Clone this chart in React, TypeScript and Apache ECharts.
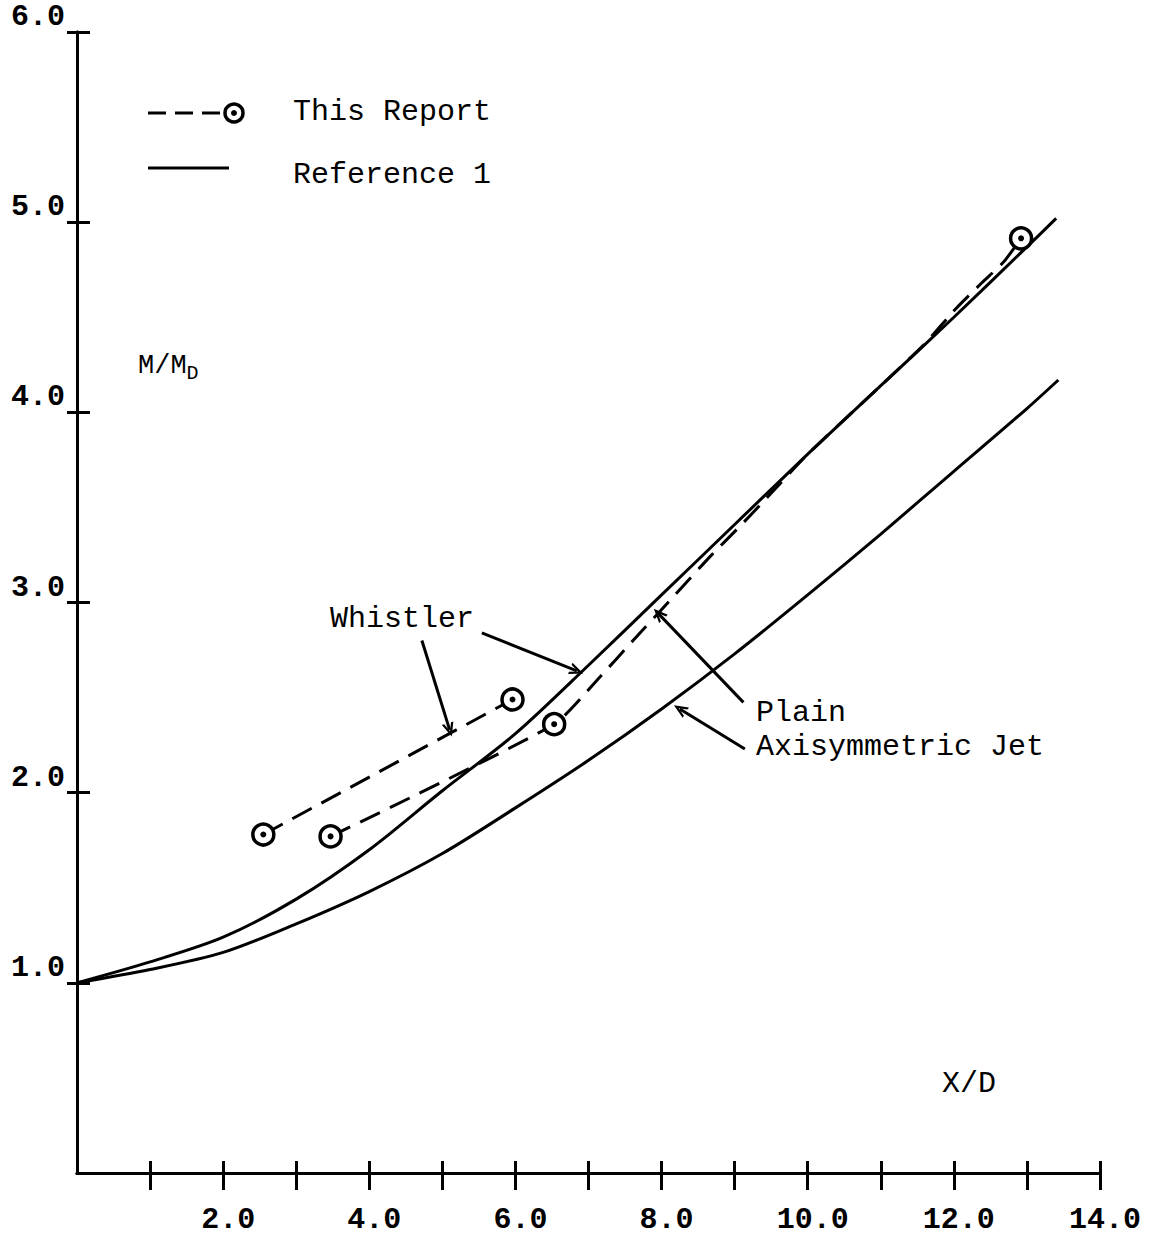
import React, { useEffect, useRef } from "react";
import * as echarts from "echarts";

// Reference 1 curves (solid)
const refWhistlerX = [0, 1, 2, 3, 4, 5, 6, 7, 8, 9, 10, 11, 12, 13, 13.4];
const refWhistlerY = [1.0, 1.11, 1.24, 1.44, 1.7, 2.01, 2.31, 2.67, 3.04, 3.41, 3.78, 4.14, 4.5, 4.87, 5.02];
const refPlainX = [0, 1, 2, 3, 4, 5, 6, 7, 8, 9, 10, 11, 12, 13, 13.43];
const refPlainY = [1.0, 1.07, 1.16, 1.31, 1.48, 1.68, 1.92, 2.17, 2.44, 2.73, 3.04, 3.36, 3.69, 4.02, 4.17];

// This Report (dashed with circled-dot markers)
const reportWhistlerX = [2.55, 5.96];
const reportWhistlerY = [1.78, 2.49];
const reportPlainX = [3.47, 6.53, 12.92];
const reportPlainY = [1.77, 2.36, 4.915];
const reportPlainCurveX = [3.47, 6.53, 7.16, 7.61, 8.16, 8.66, 9.07, 9.44, 10.0, 11.0, 11.6, 12.04, 12.38, 12.68, 12.92];
const reportPlainCurveY = [1.77, 2.36, 2.61, 2.8, 3.03, 3.24, 3.4, 3.55, 3.78, 4.14, 4.36, 4.55, 4.68, 4.79, 4.915];

// Ticks and tick labels
const xTickValues = [1, 2, 3, 4, 5, 6, 7, 8, 9, 10, 11, 12, 13, 14];
const yTickValues = [1, 2, 3, 4, 5, 6];
const xLabelValues = [2, 4, 6, 8, 10, 12, 14];
const yLabelValues = [1, 2, 3, 4, 5, 6];

// Annotation arrows (data coordinates: from -> to)
const arrowWhistlerDashed = [[4.72, 2.8], [5.1, 2.33]];
const arrowWhistlerSolid = [[5.54, 2.84], [6.84, 2.64]];
const arrowPlainDashed = [[9.12, 2.475], [7.96, 2.94]];
const arrowPlainSolid = [[9.14, 2.23], [8.25, 2.44]];

const FONT = '"Liberation Mono", "Courier New", monospace';
const zip = (xs: number[], ys: number[]) => xs.map((x, i) => [x, ys[i]]);

export default function App() {
  const ref = useRef<HTMLDivElement>(null);
  useEffect(() => {
    if (!ref.current) return;
    const chart = echarts.init(ref.current, undefined, { renderer: "svg" });
    const arrowSym = "path://M5,0 L10,10 L8,10 L5,4 L2,10 L0,10 Z";
    const mkArrow = (a: number[][]) => [
      { coord: a[0], symbol: "none" },
      { coord: a[1], symbol: arrowSym, symbolSize: [12, 14] },
    ];
    const grid = { left: 77, right: 50, top: 32, bottom: 79 };
    const xBase = { type: "value", min: 0, max: 14, interval: 1, gridIndex: 0 };
    const yBase = { type: "value", min: 0, max: 6, interval: 1, gridIndex: 0 };
    const allPoints = [...zip(reportWhistlerX, reportWhistlerY), ...zip(reportPlainX, reportPlainY)];
    const option: any = {
      animation: false,
      backgroundColor: "#ffffff",
      grid,
      xAxis: [
        {
          ...xBase,
          position: "bottom",
          axisLine: { show: true, onZero: true, lineStyle: { color: "#000", width: 3 } },
          axisTick: { show: true, length: 17, customValues: xTickValues, lineStyle: { color: "#000", width: 3 } },
          splitLine: { show: false },
          axisLabel: {
            show: true,
            margin: 32,
            color: "#000",
            fontFamily: FONT,
            fontSize: 30,
            fontWeight: "bold",
            padding: [0, 0, 0, 10],
            formatter: (v: number) => (xLabelValues.includes(v) ? v.toFixed(1) : ""),
          },
        },
        {
          // second axis (placed on the zero line, ticks pointing up into the plot)
          ...xBase,
          position: "top",
          axisLine: { show: true, onZero: true, lineStyle: { color: "#000", width: 3 } },
          axisTick: { show: true, inside: false, length: 12, customValues: xTickValues, lineStyle: { color: "#000", width: 3 } },
          axisLabel: { show: false },
          splitLine: { show: false },
        },
      ],
      yAxis: [
        {
          ...yBase,
          position: "left",
          axisLine: { show: true, onZero: true, lineStyle: { color: "#000", width: 3 } },
          axisTick: { show: true, length: 10, customValues: yTickValues, lineStyle: { color: "#000", width: 3 } },
          splitLine: { show: false },
          axisLabel: {
            show: true,
            margin: 12,
            color: "#000",
            fontFamily: FONT,
            fontSize: 30,
            fontWeight: "bold",
            verticalAlign: "bottom",
            formatter: (v: number) => (yLabelValues.includes(v) ? v.toFixed(1) : ""),
          },
        },
        {
          ...yBase,
          position: "right",
          axisLine: { show: true, onZero: true, lineStyle: { color: "#000", width: 3 } },
          axisTick: { show: true, inside: false, length: 13, customValues: yTickValues, lineStyle: { color: "#000", width: 3 } },
          axisLabel: { show: false },
          splitLine: { show: false },
        },
      ],
      series: [
        {
          name: "Reference 1 Whistler",
          type: "line",
          data: zip(refWhistlerX, refWhistlerY),
          smooth: 0.3,
          showSymbol: false,
          lineStyle: { color: "#000", width: 3 },
          z: 2,
          markLine: {
            silent: true,
            label: { show: false },
            lineStyle: { color: "#000", width: 3, type: "solid" },
            data: [
              mkArrow(arrowWhistlerDashed),
              mkArrow(arrowWhistlerSolid),
              mkArrow(arrowPlainDashed),
              mkArrow(arrowPlainSolid),
            ],
          },
        },
        {
          name: "Reference 1 Plain",
          type: "line",
          data: zip(refPlainX, refPlainY),
          smooth: 0.3,
          showSymbol: false,
          lineStyle: { color: "#000", width: 3 },
          z: 2,
        },
        {
          name: "This Report Whistler line",
          type: "line",
          data: zip(reportWhistlerX, reportWhistlerY),
          showSymbol: false,
          lineStyle: { color: "#000", width: 3, type: [22, 11] },
          z: 3,
        },
        {
          name: "This Report Plain line",
          type: "line",
          data: zip(reportPlainCurveX, reportPlainCurveY),
          smooth: 0.2,
          showSymbol: false,
          lineStyle: { color: "#000", width: 3, type: [22, 11] },
          z: 3,
        },
        {
          name: "This Report points",
          type: "scatter",
          xAxisIndex: 1,
          yAxisIndex: 1,
          data: allPoints,
          symbol: "circle",
          symbolSize: 21,
          itemStyle: { color: "#fff", borderColor: "#000", borderWidth: 3.5, opacity: 1 },
          z: 5,
        },
        {
          name: "This Report centres",
          type: "scatter",
          xAxisIndex: 1,
          yAxisIndex: 1,
          data: allPoints,
          symbol: "circle",
          symbolSize: 6,
          itemStyle: { color: "#000", opacity: 1 },
          z: 6,
        },
      ],
      graphic: [
        // legend
        {
          type: "line",
          shape: { x1: 148, y1: 113, x2: 225, y2: 113 },
          style: { stroke: "#000", lineWidth: 3, lineDash: [18, 9] },
        },
        {
          type: "circle",
          shape: { cx: 234, cy: 113, r: 9 },
          style: { fill: "#fff", stroke: "#000", lineWidth: 3.5 },
        },
        {
          type: "circle",
          shape: { cx: 234, cy: 113, r: 3 },
          style: { fill: "#000" },
        },
        {
          type: "line",
          shape: { x1: 148, y1: 168, x2: 229, y2: 168 },
          style: { stroke: "#000", lineWidth: 3 },
        },
        {
          type: "text",
          x: 293,
          y: 112,
          style: { text: "This Report", fill: "#000", font: `30px ${FONT}`, verticalAlign: "middle", align: "left" },
        },
        {
          type: "text",
          x: 293,
          y: 175,
          style: { text: "Reference 1", fill: "#000", font: `30px ${FONT}`, verticalAlign: "middle", align: "left" },
        },
        // axis titles
        {
          type: "text",
          x: 138,
          y: 366,
          style: {
            text: "{a|M/M}{b|D}",
            fill: "#000",
            verticalAlign: "middle",
            align: "left",
            rich: {
              a: { fontFamily: FONT, fontSize: 27, fill: "#000" },
              b: { fontFamily: FONT, fontSize: 20, fill: "#000", padding: [14, 0, 0, 0] },
            },
          },
        },
        {
          type: "text",
          x: 942,
          y: 1084,
          style: { text: "X/D", fill: "#000", font: `30px ${FONT}`, verticalAlign: "middle", align: "left" },
        },
        // annotation labels
        {
          type: "text",
          x: 330,
          y: 619,
          style: { text: "Whistler", fill: "#000", font: `30px ${FONT}`, verticalAlign: "middle", align: "left" },
        },
        {
          type: "text",
          x: 756,
          y: 713,
          style: { text: "Plain", fill: "#000", font: `30px ${FONT}`, verticalAlign: "middle", align: "left" },
        },
        {
          type: "text",
          x: 756,
          y: 747,
          style: { text: "Axisymmetric Jet", fill: "#000", font: `30px ${FONT}`, verticalAlign: "middle", align: "left" },
        },
      ],
    };
    chart.setOption(option);
    return () => chart.dispose();
  }, []);
  return (
    <div
      ref={ref}
      style={{ position: "fixed", left: 0, top: 0, width: 1150, height: 1252, background: "#fff" }}
    />
  );
}
